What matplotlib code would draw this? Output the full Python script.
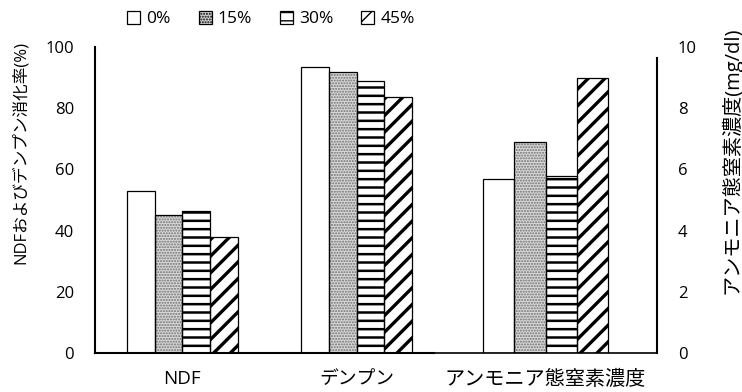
import matplotlib
matplotlib.use("Agg")
import matplotlib.pyplot as plt
from matplotlib.patches import Patch
import numpy as np

plt.rcParams['font.family'] = ['Open Sans', 'Noto Sans CJK JP', 'DejaVu Sans']

# ---- data ----
series = ['0%', '15%', '30%', '45%']
left_categories = ['NDF', 'デンプン']
left_values = {            # digestibility (%)
    '0%':  [53.0, 93.4],
    '15%': [45.0, 91.8],
    '30%': [46.5, 89.0],
    '45%': [38.0, 83.8],
}
right_categories = ['アンモニア態窒素濃度']
right_values = {           # mg/dl
    '0%':  [5.7],
    '15%': [6.9],
    '30%': [5.8],
    '45%': [9.0],
}
left_ticks = [0, 20, 40, 60, 80, 100]
right_ticks = [0, 2, 4, 6, 8, 10]
left_ylabel = 'NDFおよびデンプン消化率(%)'
right_ylabel = 'アンモニア態窒素濃度(mg/dl)'

# ---- styles ----
styles = {
    '0%':  dict(face='white', hatch=None, hcol='black', hlw=1.0),
    '15%': dict(face='#dadada', hatch='......', hcol='#6e6e6e', hlw=1.0),
    '30%': dict(face='white', hatch='--', hcol='black', hlw=1.8),
    '45%': dict(face='white', hatch='//', hcol='black', hlw=2.4),
}

W, H = 742, 392
fig = plt.figure(figsize=(W / 100, H / 100), dpi=100)

def frac(x0, x1, ytop, ybot):
    return [x0 / W, 1 - ybot / H, (x1 - x0) / W, (ybot - ytop) / H]

ax1 = fig.add_axes(frac(95, 444, 47, 353))
ax2 = fig.add_axes(frac(434, 657, 47, 353))
ax2.set_facecolor('none')


def draw_bars(ax, cats, vals, width):
    x = np.arange(len(cats))
    n = len(series)
    for i, s in enumerate(series):
        st = styles[s]
        pos = x + (i - (n - 1) / 2) * width
        with plt.rc_context({'hatch.linewidth': st['hlw'], 'hatch.color': st['hcol']}):
            ax.bar(pos, vals[s], width, color=st['face'], edgecolor=st['hcol'],
                   hatch=st['hatch'], linewidth=0, zorder=2)
        ax.bar(pos, vals[s], width, fill=False, edgecolor='black',
               linewidth=0.9, zorder=3)
    ax.set_xticks(x)
    ax.set_xticklabels(cats)


draw_bars(ax1, left_categories, left_values, 0.159)
ax1.set_xlim(-0.5, 1.5)
ax1.set_ylim(0, 100)
ax1.set_yticks(left_ticks)
for sp in ['top', 'right']:
    ax1.spines[sp].set_visible(False)
ax1.spines['left'].set_linewidth(1.5)
ax1.spines['bottom'].set_linewidth(1.5)
ax1.spines['bottom'].set_bounds(-0.5, 1.44)
ax1.tick_params(axis='y', length=0, pad=15, labelsize=12)
ax1.tick_params(axis='x', length=0, pad=12, labelsize=13.5)

draw_bars(ax2, right_categories, right_values, 0.141)
ax2.set_xlim(-0.5, 0.5)
ax2.set_ylim(0, 10)
ax2.set_yticks(right_ticks)
for sp in ['top', 'left']:
    ax2.spines[sp].set_visible(False)
ax2.spines['right'].set_linewidth(1.5)
ax2.spines['right'].set_bounds(0, 9.64)
ax2.spines['bottom'].set_linewidth(1.2)
ax2.yaxis.tick_right()
ax2.tick_params(axis='y', length=0, pad=15, labelsize=12)
ax2.tick_params(axis='x', length=0, pad=12, labelsize=14.5)

fig.text(21 / W, 1 - 152 / H, left_ylabel, rotation=90, ha='center', va='center',
         fontsize=12)
fig.text(731 / W, 1 - 160 / H, right_ylabel, rotation=90, ha='center', va='center',
         fontsize=14.5)

# legend
handles = []
for s in series:
    st = styles[s]
    with plt.rc_context({'hatch.linewidth': st['hlw'], 'hatch.color': st['hcol']}):
        handles.append(Patch(facecolor=st['face'], edgecolor='black', hatch=st['hatch'],
                             linewidth=0.9))
fig.legend(handles, series, loc='center', bbox_to_anchor=(271 / W, 1 - 19 / H),
           ncol=4, frameon=False, fontsize=12.5, handlelength=0.75, handleheight=0.75,
           handletextpad=0.35, columnspacing=1.6, borderpad=0, borderaxespad=0)

fig.savefig('out.png', dpi=100)
